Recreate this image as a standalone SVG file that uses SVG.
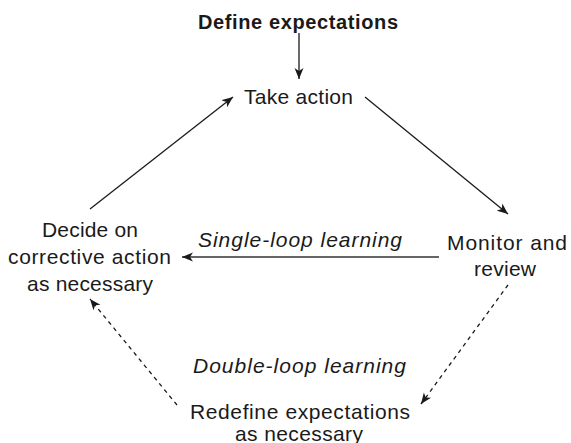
<svg xmlns="http://www.w3.org/2000/svg" width="571" height="443" viewBox="0 0 571 443">
  <defs>
    <marker id="arrow" markerUnits="userSpaceOnUse" markerWidth="12" markerHeight="10" viewBox="0 0 12 10" refX="11" refY="5" orient="auto">
      <path d="M0,0.5 L11,5 L0,9.5 L3,5 Z" fill="#1a1a1a"/>
    </marker>
    <style>
      .t { font-family: "Liberation Sans", Arial, sans-serif; font-size: 21px; fill: #1a1a1a; text-anchor: middle; }
      .b { font-weight: bold; font-size: 20px; }
      .i { font-style: italic; }
      .ln { stroke: #1a1a1a; stroke-width: 1.3; fill: none; marker-end: url(#arrow); }
      .d { stroke-dasharray: 4 4; }
    </style>
  </defs>
  <rect width="571" height="443" fill="#ffffff"/>

  <g id="connectors">
    <line class="ln" x1="299" y1="33" x2="299" y2="79"/>
    <line class="ln" x1="365" y1="97" x2="508" y2="214"/>
    <line class="ln" x1="439" y1="257" x2="182" y2="257" style="stroke:#333;stroke-width:1.6"/>
    <line class="ln" x1="90" y1="209" x2="233" y2="97"/>
    <line class="ln d" x1="508" y1="285" x2="421" y2="404"/>
    <line class="ln d" x1="177" y1="405" x2="90" y2="299"/>
  </g>

  <g id="labels">
    <text class="t i" x="300" y="246.5" textLength="204" lengthAdjust="spacing">Single-loop learning</text>
    <text class="t i" x="299.5" y="373" textLength="213" lengthAdjust="spacing">Double-loop learning</text>
  </g>

  <g id="n-define">
    <text class="t b" x="298" y="28.5" textLength="200" lengthAdjust="spacing">Define expectations</text>
  </g>
  <g id="n-take">
    <text class="t" x="298.5" y="104" textLength="109" lengthAdjust="spacing">Take action</text>
  </g>
  <g id="n-monitor">
    <text class="t" x="507" y="250" textLength="120" lengthAdjust="spacing">Monitor and</text>
    <text class="t" x="505" y="276" textLength="62" lengthAdjust="spacing">review</text>
  </g>
  <g id="n-decide">
    <text class="t" x="90" y="237" textLength="96" lengthAdjust="spacing">Decide on</text>
    <text class="t" x="89.5" y="264" textLength="163" lengthAdjust="spacing">corrective action</text>
    <text class="t" x="90" y="290.5" textLength="126" lengthAdjust="spacing">as necessary</text>
  </g>
  <g id="n-redefine">
    <text class="t" x="300" y="418.7" textLength="220" lengthAdjust="spacing">Redefine expectations</text>
    <text class="t" x="299" y="441" textLength="128" lengthAdjust="spacing">as necessary</text>
  </g>
</svg>
